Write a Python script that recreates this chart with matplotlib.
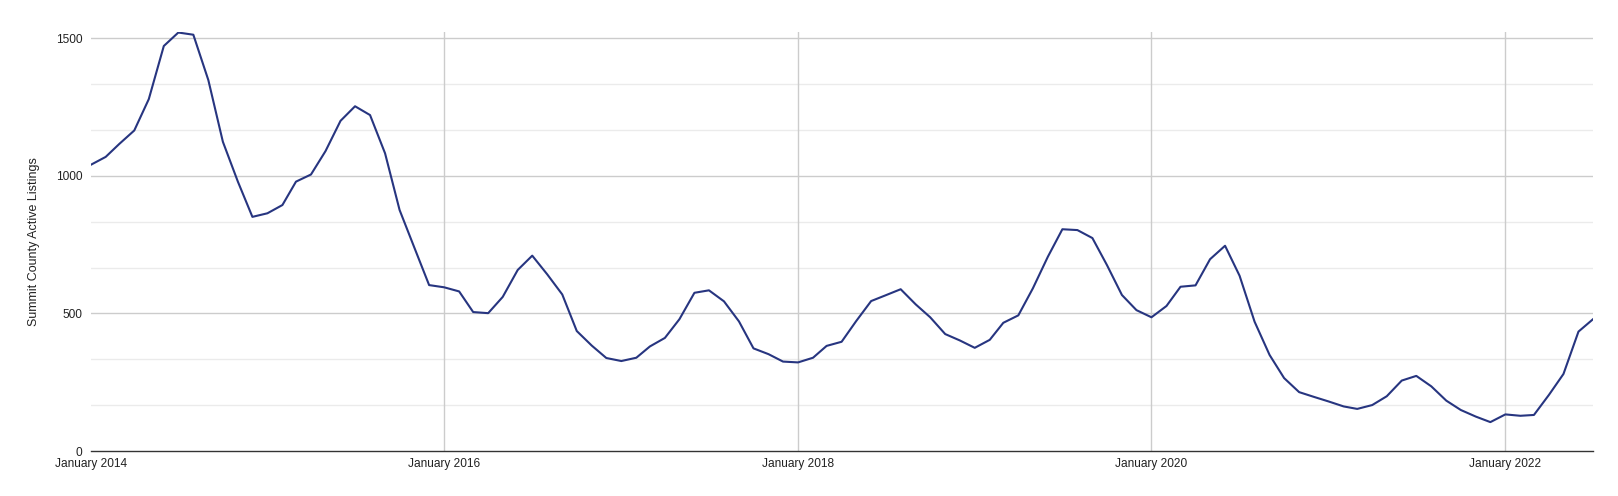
import numpy as np
import pandas as pd
import matplotlib
matplotlib.use("Agg")
import matplotlib.pyplot as plt
import matplotlib.dates as mdates

# Monthly active listings, January 2014 - July 2022
listings = [
    1040, 1069, 1116, 1165, 1279, 1472, 1521, 1513, 1348, 1124, 979, 851,   # 2014
    864, 894, 979, 1005, 1090, 1200, 1253, 1221, 1082, 876, 737, 603,       # 2015
    595, 580, 505, 501, 560, 658, 710, 642, 569, 436, 383, 338,             # 2016
    327, 339, 380, 411, 479, 575, 584, 544, 471, 373, 352, 325,             # 2017
    322, 339, 382, 397, 472, 545, 566, 588, 533, 486, 425, 402,             # 2018
    375, 404, 466, 493, 591, 706, 806, 803, 774, 676, 567, 512,             # 2019
    486, 527, 597, 602, 697, 746, 637, 470, 349, 265, 214, 197,             # 2020
    180, 162, 153, 167, 199, 256, 273, 235, 183, 149, 125, 105,             # 2021
    133, 128, 131, 204, 280, 434, 479,                                      # 2022
]
dates = pd.date_range("2014-01-01", periods=len(listings), freq="MS")
tick_dates = pd.to_datetime(["2014-01-01", "2016-01-01", "2018-01-01", "2020-01-01", "2022-01-01"])
tick_labels = ["January 2014", "January 2016", "January 2018", "January 2020", "January 2022"]
y_major = [0, 500, 1000, 1500]
y_minor = [166.7, 333.3, 666.7, 833.3, 1166.7, 1333.3]

plt.rcParams['font.family'] = ['Liberation Sans', 'DejaVu Sans']

fig = plt.figure(figsize=(16.18, 4.96), dpi=100)
ax = fig.add_axes([90.7 / 1618, 1 - 451 / 496, (1593 - 90.7) / 1618, (451 - 31.7) / 496])

# Gridlines
for v in y_minor:
    ax.axhline(v, color="#ebebeb", lw=1, zorder=0)
for v in y_major[1:]:
    ax.axhline(v, color="#cccccc", lw=1, zorder=0)
for d in tick_dates[1:]:
    ax.axvline(d, color="#cccccc", lw=1, zorder=0)

ax.plot(dates, listings, color="#273580", lw=1.5, zorder=3)

ax.set_xlim(dates[0], dates[-1])
ax.set_ylim(0, 1524)

ax.set_yticks(y_major)
ax.set_yticklabels([str(v) for v in y_major])
ax.set_xticks(tick_dates)
ax.set_xticklabels(tick_labels)
ax.tick_params(axis="both", length=0, labelsize=8.6, colors="#222222")
ax.tick_params(axis="y", pad=6)
ax.tick_params(axis="x", pad=5)

for side in ["top", "right", "left"]:
    ax.spines[side].set_visible(False)
ax.spines["bottom"].set_color("#333333")
ax.spines["bottom"].set_linewidth(1)
ax.spines["bottom"].set_zorder(4)

ax.set_ylabel("Summit County Active Listings", fontsize=9, color="#222222")
ax.yaxis.set_label_coords(-(90.7 - 40.5) / (1593 - 90.7), 0.5)

fig.savefig("out.png", dpi=100)
